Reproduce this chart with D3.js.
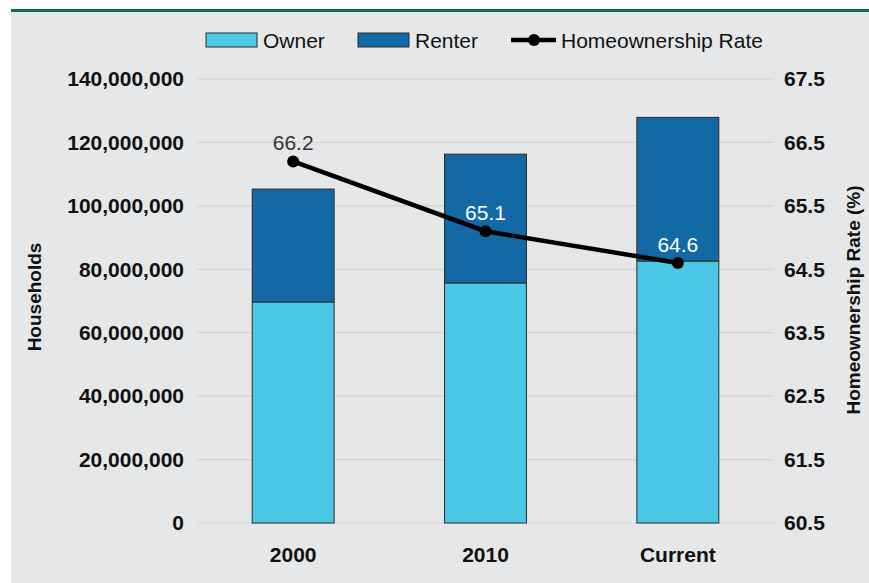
<!DOCTYPE html>
<html>
<head>
<meta charset="utf-8">
<script src="https://cdn.jsdelivr.net/npm/d3@7"></script>
<style>
  html, body { margin: 0; padding: 0; background: #ffffff; }
  svg { display: block; font-family: "Liberation Sans", Arial, sans-serif; }
</style>
</head>
<body>
<svg id="chart" width="869" height="583"></svg>
<script>
// ---- data ----
const categories = ["2000", "2010", "Current"];
const ownerValues = [69700000, 75700000, 82600000];
const renterValues = [35600000, 40600000, 45300000];
const rateValues = [66.2, 65.1, 64.6];
const leftTicks = [0, 20000000, 40000000, 60000000, 80000000, 100000000, 120000000, 140000000];
const rightTicks = [60.5, 61.5, 62.5, 63.5, 64.5, 65.5, 66.5, 67.5];
const seriesNames = ["Owner", "Renter", "Homeownership Rate"];

// ---- layout ----
const W = 869, H = 583;
const plot = { left: 197, right: 774, top: 79, bottom: 523 };
const colors = { owner: "#4bc8e8", renter: "#1368a6", bg: "#e6e7e9", grid: "#d3d3d5", teal: "#0f6b5a" };

const svg = d3.select("#chart");

svg.append("rect").attr("x", 11).attr("y", 12).attr("width", W - 11).attr("height", H - 12).attr("fill", colors.bg);
svg.append("rect").attr("x", 11).attr("y", 9).attr("width", W - 11).attr("height", 3).attr("fill", colors.teal);

const x = d3.scaleBand().domain(categories).range([plot.left, plot.right]).paddingInner(0.574).paddingOuter(0.287);
const yL = d3.scaleLinear().domain([0, 140000000]).range([plot.bottom, plot.top]);
const yR = d3.scaleLinear().domain([60.5, 67.5]).range([plot.bottom, plot.top]);

// gridlines
svg.append("g").selectAll("line").data(leftTicks).join("line")
  .attr("x1", plot.left).attr("x2", plot.right)
  .attr("y1", d => yL(d)).attr("y2", d => yL(d))
  .attr("stroke", colors.grid).attr("stroke-width", 1.2);

// left axis
const leftAxis = svg.append("g").attr("transform", `translate(${plot.left},0)`)
  .call(d3.axisLeft(yL).tickValues(leftTicks).tickSize(0).tickPadding(13).tickFormat(d3.format(",")));
leftAxis.select(".domain").remove();
leftAxis.selectAll("text").attr("font-size", 21).attr("font-weight", "bold").attr("fill", "#111")
  .attr("font-family", "Liberation Sans, Arial, sans-serif");

// right axis
const rightAxis = svg.append("g").attr("transform", `translate(${plot.right},0)`)
  .call(d3.axisRight(yR).tickValues(rightTicks).tickSize(0).tickPadding(10).tickFormat(d3.format(".1f")));
rightAxis.select(".domain").remove();
rightAxis.selectAll("text").attr("font-size", 21).attr("font-weight", "bold").attr("fill", "#111")
  .attr("font-family", "Liberation Sans, Arial, sans-serif");

// bottom axis
const bottomAxis = svg.append("g").attr("transform", `translate(0,${plot.bottom})`)
  .call(d3.axisBottom(x).tickSize(0).tickPadding(24));
bottomAxis.select(".domain").remove();
bottomAxis.selectAll("text").attr("font-size", 21).attr("font-weight", "bold").attr("fill", "#111")
  .attr("font-family", "Liberation Sans, Arial, sans-serif");

// stacked bars
const rows = categories.map((c, i) => ({ cat: c, Owner: ownerValues[i], Renter: renterValues[i] }));
const stack = d3.stack().keys(["Owner", "Renter"])(rows);
const fills = [colors.owner, colors.renter];
svg.append("g").selectAll("g").data(stack).join("g")
  .attr("fill", (d, i) => fills[i])
  .selectAll("rect").data(d => d).join("rect")
  .attr("x", d => x(d.data.cat))
  .attr("width", x.bandwidth())
  .attr("y", d => yL(d[1]))
  .attr("height", d => yL(d[0]) - yL(d[1]))
  .attr("stroke", "#2b2b2b").attr("stroke-width", 1);

// line
const cx = c => x(c) + x.bandwidth() / 2;
const line = d3.line().x((d, i) => cx(categories[i])).y(d => yR(d));
svg.append("path").datum(rateValues).attr("d", line)
  .attr("fill", "none").attr("stroke", "#000").attr("stroke-width", 4.5);
svg.append("g").selectAll("circle").data(rateValues).join("circle")
  .attr("cx", (d, i) => cx(categories[i])).attr("cy", d => yR(d)).attr("r", 6).attr("fill", "#000");
svg.append("g").selectAll("text").data(rateValues).join("text")
  .attr("x", (d, i) => cx(categories[i])).attr("y", d => yR(d) - 11)
  .attr("text-anchor", "middle").attr("font-size", 21)
  .attr("fill", (d, i) => i === 0 ? "#333" : "#ffffff")
  .text(d => d3.format(".1f")(d));

// axis titles
svg.append("text").attr("transform", "translate(41,297) rotate(-90)")
  .attr("text-anchor", "middle").attr("font-size", 19).attr("font-weight", "bold").attr("fill", "#111")
  .text("Households");
svg.append("text").attr("transform", "translate(860,300) rotate(-90)")
  .attr("text-anchor", "middle").attr("font-size", 19).attr("font-weight", "bold").attr("fill", "#111")
  .text("Homeownership Rate (%)");

// legend
const legend = svg.append("g");
const ly = 40;
const legendItems = [
  { name: seriesNames[0], type: "rect", fill: colors.owner, x: 206 },
  { name: seriesNames[1], type: "rect", fill: colors.renter, x: 358 },
  { name: seriesNames[2], type: "line", x: 511 }
];
legendItems.forEach(it => {
  if (it.type === "rect") {
    legend.append("rect").attr("x", it.x).attr("y", ly - 7).attr("width", 51).attr("height", 14)
      .attr("fill", it.fill).attr("stroke", "#2b2b2b").attr("stroke-width", 1);
    legend.append("text").attr("x", it.x + 57).attr("y", ly).attr("dominant-baseline", "central")
      .attr("font-size", 21).attr("fill", "#111").text(it.name);
  } else {
    legend.append("line").attr("x1", it.x).attr("x2", it.x + 45).attr("y1", ly).attr("y2", ly)
      .attr("stroke", "#000").attr("stroke-width", 4.5);
    legend.append("circle").attr("cx", it.x + 23).attr("cy", ly).attr("r", 6).attr("fill", "#000");
    legend.append("text").attr("x", it.x + 50).attr("y", ly).attr("dominant-baseline", "central")
      .attr("font-size", 21).attr("fill", "#111").text(it.name);
  }
});
</script>
</body>
</html>
